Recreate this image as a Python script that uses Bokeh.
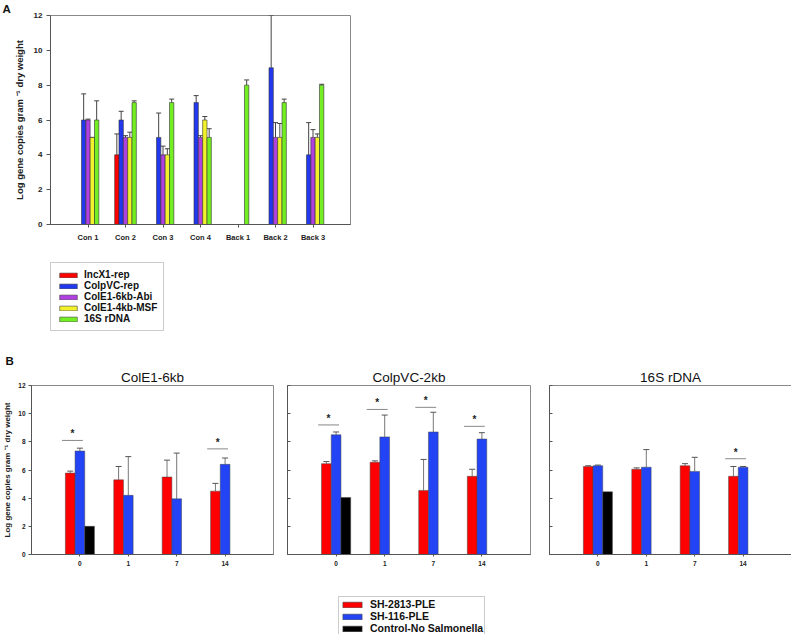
from bokeh.plotting import figure
from bokeh.layouts import column, row
from bokeh.models import (ColumnDataSource, Whisker, Legend, LegendItem, Title,
                          FixedTicker, Range1d, TeeHead, Spacer)
from bokeh.core.properties import value
from bokeh.embed import file_html
from bokeh.resources import INLINE

FONT = "Liberation Sans"
NAN = float("nan")

# ---------------- Panel A data ----------------
a_sites = ["Con 1", "Con 2", "Con 3", "Con 4", "Back 1", "Back 2", "Back 3"]
a_series = ["IncX1-rep", "ColpVC-rep", "ColE1-6kb-Abi", "ColE1-4kb-MSF", "16S rDNA"]
a_incx1 = [0, 4, 0, 0, 0, 0, 0]
a_incx1_err = [0, 5.2, 0, 0, 0, 0, 0]
a_colpvc = [6, 6, 5, 7, 0, 9, 4]
a_colpvc_err = [7.5, 6.5, 6.4, 7.4, 0, 12, 5.85]
a_cole6 = [6, 5, 4, 5, 0, 5, 5]
a_cole6_err = [6.05, 5.1, 4.5, 5.1, 0, 5.85, 5.45]
a_cole4 = [5, 5, 4, 6, 0, 5, 5]
a_cole4_err = [5.0, 5.3, 4.35, 6.2, 0, 5.8, 5.2]
a_16s = [6, 7, 7, 5, 8, 7, 8]
a_16s_err = [7.1, 7.1, 7.2, 5.5, 8.3, 7.2, 8.05]
a_colors = ["#FF0000", "#2238EE", "#B040E0", "#F2F22A", "#72EE22"]

# ---------------- Panel B data ----------------
b_days = ["0", "1", "7", "14"]
b_titles = ["ColE1-6kb", "ColpVC-2kb", "16S rDNA"]
b_series = ["SH-2813-PLE", "SH-116-PLE", "Control-No Salmonella"]
b_colors = ["#FF0000", "#2244F5", "#000000"]

b1_sh2813 = [5.78, 5.3, 5.5, 4.5]
b1_sh2813_err = [5.92, 6.25, 6.7, 5.05]
b1_sh116 = [7.35, 4.2, 3.95, 6.4]
b1_sh116_err = [7.55, 6.95, 7.2, 6.85]
b1_ctrl = [2.0, None, None, None]
b1_sig_day = [0, 3]
b1_sig_y = [8.1, 7.5]

b2_sh2813 = [6.45, 6.55, 4.55, 5.55]
b2_sh2813_err = [6.6, 6.65, 6.75, 6.05]
b2_sh116 = [8.5, 8.35, 8.7, 8.2]
b2_sh116_err = [8.7, 9.9, 10.1, 8.65]
b2_ctrl = [4.05, None, None, None]
b2_sig_day = [0, 1, 2, 3]
b2_sig_y = [9.2, 10.3, 10.45, 9.1]

b3_sh2813 = [6.25, 6.05, 6.3, 5.55]
b3_sh2813_err = [6.3, 6.15, 6.45, 6.25]
b3_sh116 = [6.3, 6.2, 5.9, 6.2]
b3_sh116_err = [6.35, 7.45, 6.9, 6.25]
b3_ctrl = [4.45, None, None, None]
b3_sig_day = [3]
b3_sig_y = [6.8]

YLABEL = "Log gene copies gram \u207b\u00b9 dry weight"


def style_axes(p, tick_size, label_size):
    for ax in (p.xaxis[0], p.yaxis[0]):
        ax.major_label_text_font = FONT
        ax.major_label_text_font_style = "bold"
        ax.major_label_text_font_size = tick_size
        ax.major_label_text_color = "#222222"
        ax.axis_label_text_font = FONT
        ax.axis_label_text_font_style = "bold"
        ax.axis_label_text_font_size = label_size
        ax.axis_label_text_color = "#222222"
        ax.axis_line_color = "#555555"
        ax.major_tick_line_color = "#555555"
        ax.minor_tick_line_color = None
    p.xgrid.visible = False
    p.ygrid.visible = False
    p.outline_line_color = "#8a8a8a"


def legend_fig(names, colors, fw, fh, top, gw, gh, lh, fsize, standoff, pad):
    q = figure(frame_width=fw, frame_height=fh, output_backend="svg", toolbar_location=None,
               x_axis_location=None, y_axis_location=None, title=None,
               x_range=Range1d(0, 1), y_range=Range1d(0, 1),
               min_border_left=0, min_border_right=0, min_border_top=top, min_border_bottom=0)
    q.outline_line_color = None
    q.xgrid.visible = False
    q.ygrid.visible = False
    items = []
    for n, c in zip(names, colors):
        r = q.vbar(x=[NAN], top=[NAN], width=0.1, fill_color=c, line_color="#444444",
                   line_width=0.6)
        items.append(LegendItem(label=n, renderers=[r]))
    lg = Legend(items=items, location="top_left", orientation="vertical",
                glyph_width=gw, glyph_height=gh, label_height=lh, label_standoff=standoff,
                label_text_font=FONT, label_text_font_style="bold", label_text_font_size=fsize,
                label_text_color="#111111", spacing=0, padding=pad, margin=0,
                border_line_color="#999999", background_fill_alpha=1)
    q.add_layout(lg)
    return q


# ---------------- Panel A figure ----------------
pa = figure(frame_width=300, frame_height=209, output_backend="svg", toolbar_location=None,
            x_range=Range1d(0, len(a_sites) + 1), y_range=Range1d(0, 12),
            min_border_left=50, min_border_right=10, min_border_top=15, min_border_bottom=30)
pa.title.text = "A"
pa.title.align = "left"
pa.title.offset = -48
pa.title.standoff = 1
pa.title.text_font = FONT
pa.title.text_font_style = "bold"
pa.title.text_font_size = "11.5px"
pa.title.text_color = "#111111"
style_axes(pa, "8px", "9.5px")
pa.yaxis.axis_label = YLABEL
pa.yaxis.ticker = FixedTicker(ticks=[0, 2, 4, 6, 8, 10, 12])
pa.yaxis.major_tick_out = 4
pa.yaxis.major_tick_in = 0
pa.yaxis.major_label_standoff = 4
pa.yaxis.axis_label_standoff = 6
pa.xaxis.ticker = FixedTicker(ticks=list(range(1, len(a_sites) + 1)))
pa.xaxis.major_label_overrides = {i + 1: s for i, s in enumerate(a_sites)}
pa.xaxis.major_tick_out = 3
pa.xaxis.major_tick_in = 0
pa.xaxis.major_label_standoff = 5
pa.xaxis.major_label_text_font_size = "7.5px"

a_vals = [a_incx1, a_colpvc, a_cole6, a_cole4, a_16s]
a_errs = [a_incx1_err, a_colpvc_err, a_cole6_err, a_cole4_err, a_16s_err]
bw_a = 0.1156
for k, (vals, errs, col) in enumerate(zip(a_vals, a_errs, a_colors)):
    off = (k - 2) * bw_a
    xs = [i + 1 + off for i, v in enumerate(vals) if v > 0]
    tops = [v for v in vals if v > 0]
    ers = [e for v, e in zip(vals, errs) if v > 0]
    src = ColumnDataSource(dict(x=xs, top=tops, err=ers))
    w = Whisker(base="x", lower="top", upper="err", source=src, dimension="height",
                line_color="#444444", line_width=1,
                upper_head=TeeHead(size=5, line_color="#444444", line_width=1), lower_head=None)
    pa.add_layout(w)
    pa.vbar(x="x", top="top", bottom=0, width=bw_a, source=src, fill_color=col,
            line_color="#333333", line_width=0.6)

leg_a = legend_fig(a_series, a_colors, 115, 90, 8, 22, 6, 11, "10px", 5, 6)


# ---------------- Panel B figures ----------------
def make_b(title, red, red_err, blue, blue_err, ctrl, sig_day, sig_y, fw, mleft, mright, first):
    p = figure(frame_width=fw, frame_height=169, output_backend="svg", toolbar_location=None,
               title=None,
               x_range=Range1d(0, len(b_days) + 1), y_range=Range1d(0, 12),
               min_border_left=mleft, min_border_right=mright, min_border_top=32,
               min_border_bottom=22)
    p.add_layout(Title(text=title, align="center", text_font=FONT, text_font_style="normal",
                       text_font_size="13.5px", text_color="#111111", standoff=2), "above")
    style_axes(p, "6.5px", "8px")
    p.yaxis.ticker = FixedTicker(ticks=[0, 2, 4, 6, 8, 10, 12])
    p.xaxis.ticker = FixedTicker(ticks=list(range(1, len(b_days) + 1)))
    p.xaxis.major_label_overrides = {i + 1: d for i, d in enumerate(b_days)}
    p.xaxis.major_tick_out = 2
    p.xaxis.major_tick_in = 0
    p.xaxis.major_label_standoff = 4
    if first:
        p.yaxis.axis_label = YLABEL
        p.yaxis.major_tick_out = 3
        p.yaxis.major_tick_in = 0
        p.yaxis.major_label_standoff = 3
        p.yaxis.axis_label_standoff = 3
    else:
        p.yaxis.major_label_text_font_size = "1px"
        p.yaxis.major_label_text_alpha = 0
        p.yaxis.major_tick_out = 0
        p.yaxis.major_tick_in = 3
        p.yaxis.major_label_standoff = 0
    bw = 0.2
    for k, (vals, errs, col) in enumerate(zip([red, blue, ctrl], [red_err, blue_err, None], b_colors)):
        off = (k - 1) * bw
        idx = [i for i, v in enumerate(vals) if v is not None]
        data = dict(x=[i + 1 + off for i in idx], top=[vals[i] for i in idx])
        if errs is not None:
            data["err"] = [errs[i] for i in idx]
        src = ColumnDataSource(data)
        if errs is not None:
            w = Whisker(base="x", lower="top", upper="err", source=src, dimension="height",
                        line_color="#777777", line_width=1,
                        upper_head=TeeHead(size=6, line_color="#555555", line_width=1),
                        lower_head=None)
            p.add_layout(w)
        p.vbar(x="x", top="top", bottom=0, width=bw, source=src, fill_color=col,
               line_color="#444444", line_width=0.5)
    x0 = [d + 1 - 0.37 for d in sig_day]
    x1 = [d + 1 + 0.06 for d in sig_day]
    p.segment(x0=x0, y0=sig_y, x1=x1, y1=sig_y, line_color="#888888", line_width=1)
    p.text(x=[(a + b) / 2 for a, b in zip(x0, x1)], y=[y + 0.08 for y in sig_y],
           text=["*"] * len(sig_day), text_font=value(FONT), text_font_size="10px",
           text_font_style="bold", text_align="center", text_baseline="bottom",
           text_color="#222222")
    return p


pb1 = make_b(b_titles[0], b1_sh2813, b1_sh2813_err, b1_sh116, b1_sh116_err, b1_ctrl,
             b1_sig_day, b1_sig_y, 242, 29, 7, True)
pb2 = make_b(b_titles[1], b2_sh2813, b2_sh2813_err, b2_sh116, b2_sh116_err, b2_ctrl,
             b2_sig_day, b2_sig_y, 243, 7, 9, False)
pb3 = make_b(b_titles[2], b3_sh2813, b3_sh2813_err, b3_sh116, b3_sh116_err, b3_ctrl,
             b3_sig_day, b3_sig_y, 242, 10, 1, False)

pb1.add_layout(Title(text="B", align="left", offset=-26, text_font=FONT, text_font_style="bold",
                     text_font_size="11.5px", text_color="#111111", standoff=0), "above")

leg_b = legend_fig(b_series, b_colors, 152, 38, 20, 24, 7, 12, "10.5px", 6, 1)

layout = column(pa,
                row(Spacer(width=50, height=10), leg_a),
                row(pb1, pb2, pb3),
                row(Spacer(width=338, height=10), leg_b))

open("out.html", "w").write(file_html(layout, INLINE))
